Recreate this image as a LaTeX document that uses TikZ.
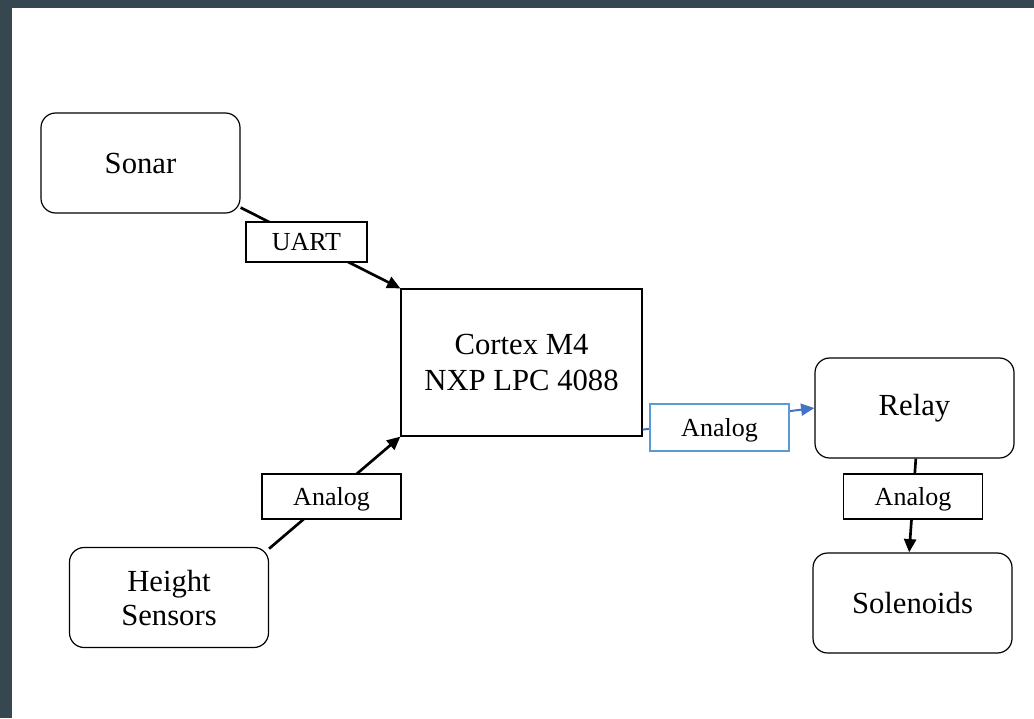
\documentclass[tikz,border=0pt]{standalone}
\usepackage{fontspec}
\setmainfont{Liberation Serif}
\usetikzlibrary{arrows.meta,positioning}
\definecolor{slate}{HTML}{37474F}
\definecolor{linkblue}{HTML}{4472C4}
\definecolor{labelblue}{HTML}{5B9BD5}

\begin{document}
\begin{tikzpicture}[x=0.75pt,y=-0.75pt,
    unitbox/.style={draw, line width=0.9pt, rounded corners=11pt,
        minimum width=149.25pt, minimum height=75pt, align=center,
        font=\fontsize{23}{25.5}\selectfont},
    cpubox/.style={draw, line width=0.9pt, minimum width=180.75pt,
        minimum height=110.25pt, align=center,
        font=\fontsize{23}{26.5}\selectfont},
    buslabel/.style={draw, fill=white, line width=0.8pt, text depth=0pt,
        minimum width=104.25pt, minimum height=33.75pt,
        font=\fontsize{19.5}{22}\selectfont},
    link/.style={line width=2pt, -{Triangle[length=10pt,width=9pt]}},
    ]
    % frame
    \fill[slate] (0,0) rectangle (1034,718);
    \fill[white] (12,8) rectangle (1034,718);

    % units
    \node[unitbox] (sonar) at (140.5,163) {Sonar};
    \node[cpubox] (cortex) at (521.5,362.5) {Cortex M4\\NXP LPC 4088};
    \node[unitbox] (height) at (169,597.5) {Height\\Sensors};
    \node[unitbox] (relay) at (914.5,408) {Relay};
    \node[unitbox] (solenoids) at (912.5,603) {Solenoids};

    % links
    \draw[link] (sonar.-24) -- (cortex.north west);
    \draw[link] (height.26) -- (cortex.south west);
    \draw[link, linkblue, line width=1.5pt] (cortex.-29) -- (relay.west);
    \draw[link] ([xshift=1pt]relay.south) -- ([xshift=-2.5pt]solenoids.north);

    % bus labels
    \node[buslabel, minimum width=90.75pt, minimum height=30pt] (uart) at (306.5,242) {UART};
    \node[buslabel] (analogin) at (331.5,496.5) {Analog};
    \node[buslabel, draw=labelblue, minimum height=35.25pt] (analogout) at (719.5,427.5) {Analog};
    \node[buslabel] (analogrelay) at (913,496.5) {Analog};
\end{tikzpicture}
\end{document}
